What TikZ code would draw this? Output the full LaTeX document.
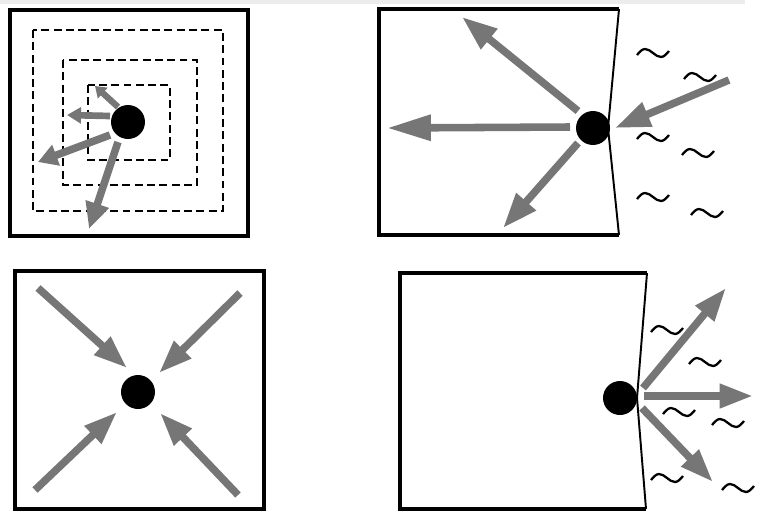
\documentclass[tikz,border=0pt]{standalone}
\usepackage{xcolor}
\usepackage{tikz}
\usetikzlibrary{arrows.meta}

\definecolor{arrowgray}{RGB}{118,118,118}

\begin{document}
\begin{tikzpicture}[
 x=0.02cm, y=-0.02cm,
 frame/.style={draw=black, line width=2.8pt},
 wall/.style={draw=black, line width=1.1pt, line join=round},
 shell/.style={draw=black, line width=0.85pt, dash pattern=on 4.5pt off 2.5pt},
 particle/.style={circle, fill=black, inner sep=0pt, minimum size=0.68cm},
 flux/.style 2 args={-{Triangle[length=#1, width=#2]}, draw=arrowgray, line width=4.3pt},
 wave/.style={draw=black, line width=1.3pt},
 tilde/.pic={\draw[wave] (-16,2) sin (-8,-4) cos (0,0) sin (8,4) cos (16,-2);}
]
\useasboundingbox (0,0) rectangle (770,514);
\draw[gray!15, line width=2pt] (0,2) -- (745,2);

% top left: diffusion through shells
\draw[frame] (10,10) rectangle (248,236);
\draw[shell] (33,30) rectangle (223,211);
\draw[shell] (63,60) rectangle (197,185);
\draw[shell] (88,85) rectangle (170,160);
\node[particle] (src) at (128,122) {};
\draw[flux={6pt}{8pt}, line width=3.6pt] (118,107) -- (95,86);
\draw[flux={8pt}{9pt}, line width=3.8pt] (110,116) -- (67,115);
\draw[flux={11pt}{12pt}] (110,135) -- (38,162);
\draw[flux={15pt}{13pt}] (118,142) -- (89,229);

% top right: incoming at the wall
\draw[frame] (619,9) -- (379,9) -- (379,235) -- (619,235);
\draw[wall] (619,9) -- (608,128) -- (619,235);
\node[particle] (hit) at (593,128) {};
\draw[flux={20pt}{14pt}] (578,111) -- (462,17);
\draw[flux={25pt}{14pt}] (570,127) -- (387,128);
\draw[flux={20pt}{14pt}] (578,143) -- (503,228);
\draw[flux={20pt}{14pt}] (729,80) -- (615,128);
\foreach \p in {(653,53),(700,77),(653,137),(698,153),(653,197),(707,213)}
  \pic at \p {tilde};

% bottom left: converging
\draw[frame] (15,271) rectangle (264,509);
\node[particle] (sink) at (138,392) {};
\draw[flux={19pt}{13pt}] (38,288) -- (127,368);
\draw[flux={19pt}{13pt}] (240,293) -- (159,373);
\draw[flux={19pt}{13pt}] (35,490) -- (117,412);
\draw[flux={19pt}{13pt}] (238,495) -- (160,413);

% bottom right: leaving through the wall
\draw[frame] (647,273) -- (400,273) -- (400,509) -- (646,509);
\draw[wall] (647,273) -- (637,398) -- (646,509);
\node[particle] (out) at (620,398) {};
\draw[flux={19pt}{13pt}] (643,388) -- (726,288);
\draw[flux={19pt}{13pt}] (644,396) -- (753,396);
\draw[flux={19pt}{13pt}] (642,408) -- (713,482);
\foreach \p in {(667,330),(705,362),(679,412),(728,423),(667,478),(738,488)}
  \pic at \p {tilde};
\end{tikzpicture}
\end{document}
